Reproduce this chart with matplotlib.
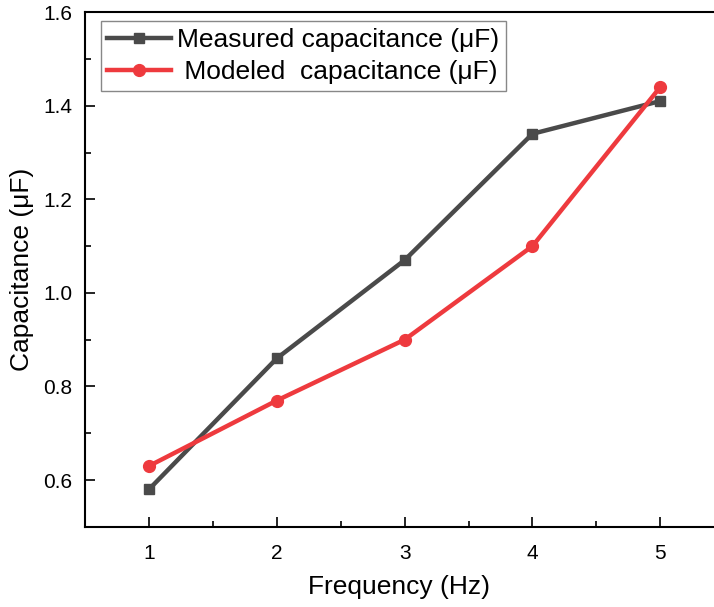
import matplotlib
matplotlib.use('Agg')
from matplotlib import pyplot as plt
from matplotlib.ticker import MultipleLocator, FormatStrFormatter

freq = [1, 2, 3, 4, 5]
measured = [0.58, 0.86, 1.07, 1.34, 1.41]
modeled = [0.63, 0.77, 0.90, 1.10, 1.44]

plt.rcParams['font.family'] = ['Liberation Sans', 'DejaVu Sans']

fig = plt.figure(figsize=(7.14, 6.07), dpi=100)
ax = fig.add_axes([0.119, 0.132, 0.881, 0.848])

ax.plot(freq, measured, color='#4a4a4a', lw=3.2, marker='s', ms=7.5,
        label='Measured capacitance (\u03bcF)')
ax.plot(freq, modeled, color='#ee3a3e', lw=3.2, marker='o', ms=8.5,
        label=' Modeled  capacitance (\u03bcF)')

ax.set_xlim(0.5, 5.42)
ax.set_ylim(0.5, 1.6)
ax.xaxis.set_major_locator(MultipleLocator(1))
ax.xaxis.set_minor_locator(MultipleLocator(0.5))
ax.yaxis.set_major_locator(MultipleLocator(0.2))
ax.yaxis.set_minor_locator(MultipleLocator(0.1))
ax.yaxis.set_major_formatter(FormatStrFormatter('%.1f'))

ax.tick_params(which='both', direction='in', width=1.2, labelsize=15)
ax.tick_params(axis='x', pad=12)
ax.tick_params(axis='y', pad=9)
ax.tick_params(which='major', length=7.5)
ax.tick_params(which='minor', length=4.5)
for s in ['left', 'bottom', 'top']:
    ax.spines[s].set_linewidth(1.5)
ax.spines['right'].set_visible(False)

ax.set_xlabel('Frequency (Hz)', fontsize=19, labelpad=9)
ax.set_ylabel('Capacitance (\u03bcF)', fontsize=19, labelpad=7)

leg = ax.legend(loc='upper left', fontsize=19, fancybox=False,
                edgecolor='#888888', framealpha=1, handlelength=2.4,
                handletextpad=0.25, borderpad=0.25, labelspacing=0.3,
                borderaxespad=0, bbox_to_anchor=(0.025, 0.982))
leg.get_frame().set_linewidth(1)

fig.savefig('out.png', dpi=100)
